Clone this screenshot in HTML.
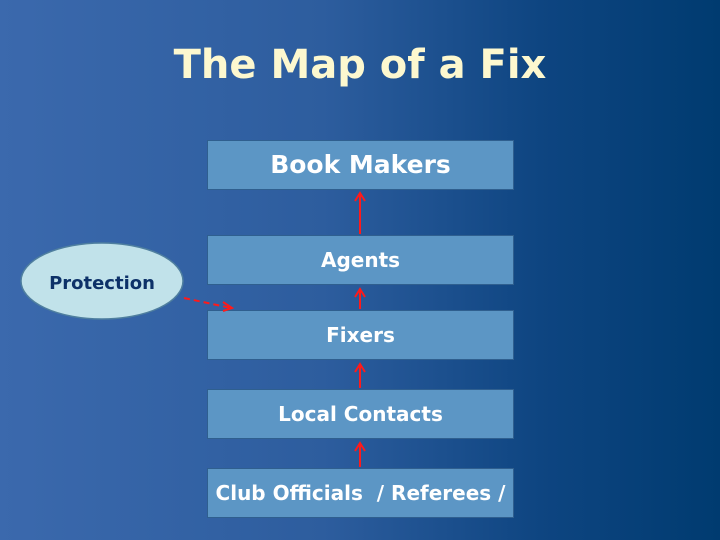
<!DOCTYPE html>
<html><head><style>
body{margin:0;width:720px;height:540px;overflow:hidden;background:linear-gradient(90deg,#3b69ad 0%,#2d5d9e 45%,#0e4581 75%,#003b70 100%);font-family:"DejaVu Sans","Liberation Sans",sans-serif;}
.t{position:absolute;left:0;width:720px;top:42px;text-align:center;color:#fdf8cf;font-weight:bold;font-size:40px;}
.b{position:absolute;left:207px;width:305px;height:48px;background:#5c96c5;border:1px solid #2f5f8f;color:#fff;font-weight:bold;text-align:center;line-height:48px;font-size:20px;}
</style></head><body>
<div class="t">The Map of a Fix</div>
<div class="b" style="top:140px;font-size:25px">Book Makers</div>
<div class="b" style="top:235px">Agents</div>
<div class="b" style="top:310px">Fixers</div>
<div class="b" style="top:389px">Local Contacts</div>
<div class="b" style="top:468px">Club Officials&nbsp;&nbsp;/ Referees /</div>
<svg width="720" height="540" style="position:absolute;left:0;top:0">
<ellipse cx="102" cy="281" rx="81" ry="38" fill="#c1e2ea" stroke="#4f7f9f" stroke-width="1.5"/>
<text x="102" y="289" text-anchor="middle" font-family="DejaVu Sans,Liberation Sans,sans-serif" font-weight="bold" font-size="18" fill="#0d3168">Protection</text>
<g stroke="#ff1a1a" stroke-width="2" fill="none">
<line x1="360" y1="234" x2="360" y2="194"/><polyline points="355,201 360,193 365,201"/>
<line x1="360" y1="309" x2="360" y2="290"/><polyline points="355,297 360,289 365,297"/>
<line x1="360" y1="388" x2="360" y2="365"/><polyline points="355,372 360,364 365,372"/>
<line x1="360" y1="467" x2="360" y2="444"/><polyline points="355,451 360,443 365,451"/>
<line x1="184" y1="298" x2="231" y2="308" stroke-dasharray="6,4"/><polyline points="223,302 232,308 223,311"/>
</g>
</svg>
</body></html>
